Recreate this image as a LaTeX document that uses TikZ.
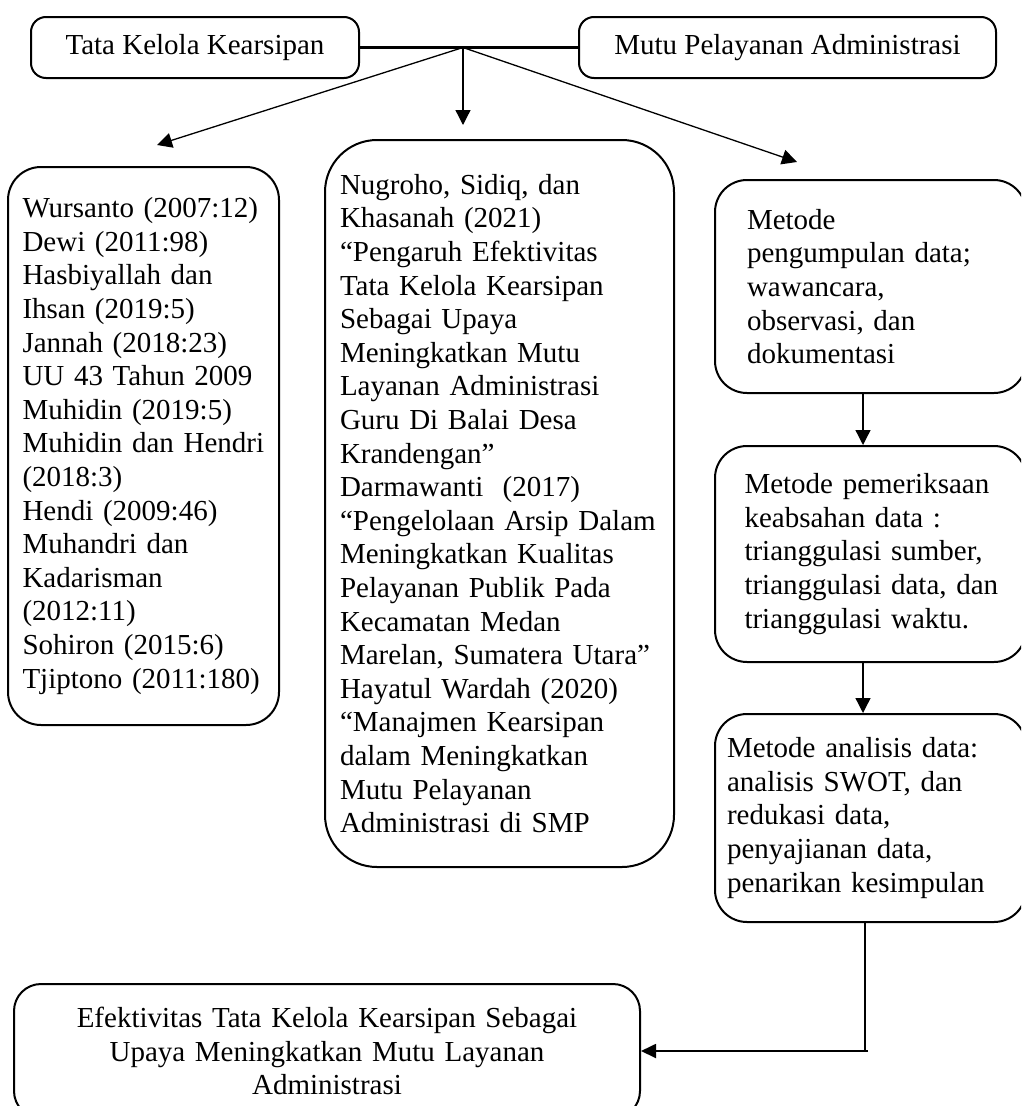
\documentclass[tikz,border=0pt]{standalone}
\usepackage{fontspec}
\setmainfont{Liberation Serif}
\usetikzlibrary{arrows.meta,calc}
\begin{document}
\begin{tikzpicture}[x=1pt,y=-1pt,
  box/.style={draw, line width=2pt, rounded corners=#1, inner sep=0pt,
    font=\fontsize{29}{33.6}\selectfont},
  arr/.style={line width=1.3pt, -{Triangle[length=15pt,width=15pt]}},
  joinline/.style={line width=2.7pt},
  outline/.style={line width=2.4pt}
]
\useasboundingbox (0,0) rectangle (1021,1106);
\fill[white] (0,0) rectangle (1021,1106);
\clip (0,0) rectangle (1021,1106);

% top boxes
\node[box=15pt, minimum width=328pt, minimum height=61pt] (tl) at (195,47.5) {Tata Kelola Kearsipan};
\node[box=15pt, minimum width=417pt, minimum height=61pt] (tr) at (787.5,47.5) {Mutu Pelayanan Administrasi};
\draw[joinline] (tl.east) -- (tr.west);
\coordinate (j) at (463,47.5);

% left box
\node[box=33pt, minimum width=271pt, minimum height=558pt, text width=242pt, align=left] (lb) at (143.5,446)
{Wursanto (2007:12)\\
Dewi (2011:98)\\
Hasbiyallah dan\\
Ihsan (2019:5)\\
Jannah (2018:23)\\
UU 43 Tahun 2009\\
Muhidin (2019:5)\\
\mbox{Muhidin dan Hendri}\\
(2018:3)\\
Hendi (2009:46)\\
Muhandri dan\\
Kadarisman\\
(2012:11)\\
Sohiron (2015:6)\\
\mbox{Tjiptono (2011:180)}};

% centre box
\node[box=52pt, minimum width=349pt, minimum height=727pt, text width=319pt, align=left] (cb) at (499.5,503.5)
{Nugroho, Sidiq, dan\\
Khasanah (2021)\\
“Pengaruh Efektivitas\\
Tata Kelola Kearsipan\\
Sebagai Upaya\\
Meningkatkan Mutu\\
Layanan Administrasi\\
Guru Di Balai Desa\\
Krandengan”\\
Darmawanti\ \ (2017)\\
\mbox{“Pengelolaan Arsip Dalam}\\
Meningkatkan Kualitas\\
Pelayanan Publik Pada\\
Kecamatan Medan\\
\mbox{Marelan, Sumatera Utara”}\\
Hayatul Wardah (2020)\\
“Manajmen Kearsipan\\
dalam Meningkatkan\\
Mutu Pelayanan\\
Administrasi di SMP};

% right column
\node[box=32pt, minimum width=311pt, minimum height=213pt, text width=247pt, align=left] (r1) at (870.5,286.5)
{Metode\\
pengumpulan data;\\
wawancara,\\
observasi, dan\\
dokumentasi};
\node[box=32pt, minimum width=311pt, minimum height=216pt, text width=252pt, align=left] (r2) at (870.5,554)
{\mbox{Metode pemeriksaan}\\
keabsahan data :\\
\mbox{trianggulasi sumber,}\\
\mbox{trianggulasi data, dan}\\
\mbox{trianggulasi waktu.}};
\node[box=32pt, minimum width=311pt, minimum height=208pt, text width=287pt, align=left] (r3) at (870.5,818)
{Metode analisis data:\\
analisis SWOT, dan\\
redukasi data,\\
penyajianan data,\\
\mbox{penarikan kesimpulan}};

% bottom box
\node[box=27pt, minimum width=626pt, minimum height=134pt, text width=600pt, align=center] (bb) at (327,1051)
{Efektivitas Tata Kelola Kearsipan Sebagai\\
Upaya Meningkatkan Mutu Layanan\\
Administrasi};

% arrows from the junction
\coordinate (tipL) at (157,145);
\coordinate (tipC) at (463,125);
\coordinate (tipR) at (797,162);
\draw[arr] (j) -- (tipL);
\draw[arr] (j) -- (tipC);
\draw[arr] (j) -- (tipR);

% right column arrows
\draw[arr] ([xshift=-7.5pt]r1.south) -- ([xshift=-7.5pt]r2.north);
\draw[arr] ([xshift=-7.5pt]r2.south) -- ([xshift=-7.5pt]r3.north);

% connector to bottom box
\coordinate (k) at ($(r3.south)+(-5.5,0)$);
\coordinate (k2) at (k |- bb.east);
\draw[outline] (k) -- (k2);
\draw[line width=1.8pt, -{Triangle[length=15pt,width=14pt]}] ($(k2)+(3,0)$) -- (bb.east);
\end{tikzpicture}
\end{document}
